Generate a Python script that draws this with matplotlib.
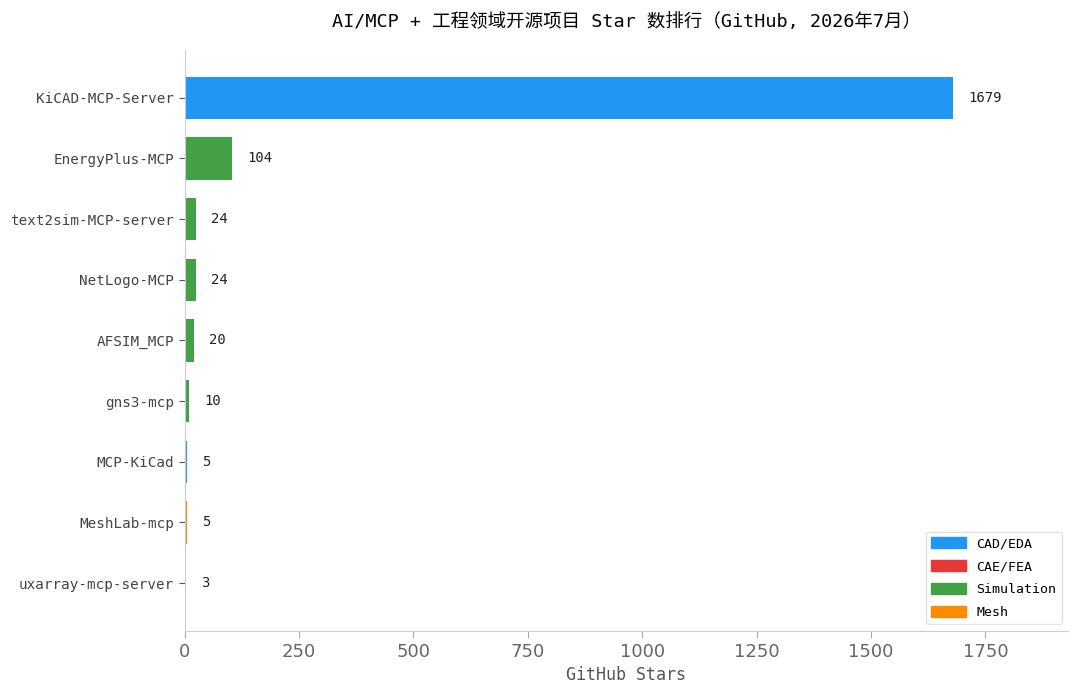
import matplotlib.pyplot as plt
from matplotlib.patches import Patch

plt.rcParams['font.family'] = ['DejaVu Sans Mono', 'Noto Sans CJK SC']

# data, bottom to top as drawn
projects = ["uxarray-mcp-server", "MeshLab-mcp", "MCP-KiCad", "gns3-mcp", "AFSIM_MCP",
            "NetLogo-MCP", "text2sim-MCP-server", "EnergyPlus-MCP", "KiCAD-MCP-Server"]
stars = [3, 5, 5, 10, 20, 24, 24, 104, 1679]
domains = ["Mesh", "Mesh", "CAD/EDA", "Simulation", "Simulation",
           "Simulation", "Simulation", "Simulation", "CAD/EDA"]

domain_colors = {
    "CAD/EDA": "#2196F3",
    "CAE/FEA": "#E53935",
    "Simulation": "#43A047",
    "Mesh": "#FB8C00",
}

fig, ax = plt.subplots(figsize=(10.8, 6.97), dpi=100)
fig.subplots_adjust(left=0.171, right=0.989, top=0.928, bottom=0.095)

colors = [domain_colors[d] for d in domains]
bars = ax.barh(projects, stars, height=0.7, color=colors)

max_val = max(stars)
for y, v in enumerate(stars):
    ax.text(v + max_val * 0.02, y, str(v), va='center', ha='left', fontsize=10, color='#222222')

ax.set_xlim(0, max_val * 1.15)

ax.set_xlabel("GitHub Stars", fontsize=12, color='#555555', family='DejaVu Sans Mono')
ax.tick_params(axis='x', labelsize=13, labelcolor='#666666', color='#aaaaaa', length=5)
ax.tick_params(axis='y', labelsize=10.3, labelcolor='#444444', color='#555555', length=4)
for lbl in ax.get_xticklabels():
    lbl.set_family('DejaVu Sans')

ax.spines['top'].set_visible(False)
ax.spines['right'].set_visible(False)
ax.spines['left'].set_color('#cccccc')
ax.spines['bottom'].set_color('#cccccc')

ax.set_title("AI/MCP + 工程领域开源项目 Star 数排行（GitHub, 2026年7月）", fontsize=13.3, pad=17)

handles = [Patch(color=c, label=k) for k, c in domain_colors.items()]
ax.legend(handles=handles, loc='lower right', fontsize=9.5, frameon=True, edgecolor='#dddddd',
          handlelength=2.6, handleheight=0.9, labelspacing=0.75)

plt.savefig("out.png", dpi=100)
plt.close()
